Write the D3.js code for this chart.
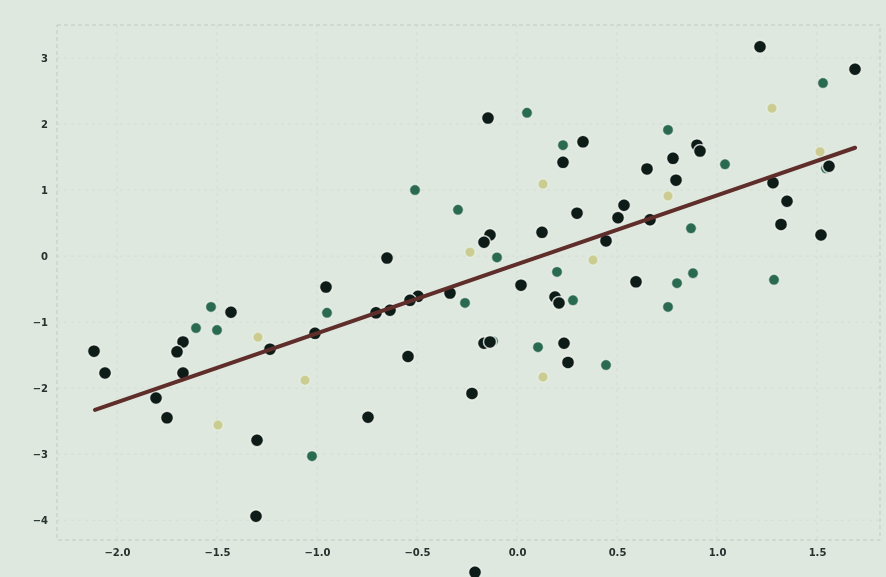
<!DOCTYPE html>
<html lang="en">
  <head>
    <meta charset="UTF-8" />
    <title>scatter</title>
    <style>
      body {
        margin: 0;
        background: #dfe8de;
      }
      text {
        font-family: "DejaVu Sans", sans-serif;
      }
    </style>
  </head>

  <body>
    <div class="container"></div>

    <script src="https://d3js.org/d3.v7.min.js"></script>
    <script>
      // 三組點 [x, y]
      const darkPts = [
        [1.215, 3.17], [1.69, 2.83], [-0.145, 2.09], [0.33, 1.73], [0.23, 1.42],
        [0.9, 1.68], [0.915, 1.59], [0.78, 1.48], [0.795, 1.15], [1.28, 1.11],
        [1.35, 0.83], [0.535, 0.77], [0.505, 0.58], [0.3, 0.65], [1.32, 0.48],
        [1.52, 0.32], [0.125, 0.36], [-0.135, 0.32], [-0.165, 0.21], [0.445, 0.23],
        [0.665, 0.55], [0.65, 1.32], [1.56, 1.36], [-0.65, -0.03], [-0.955, -0.47],
        [0.02, -0.44], [0.595, -0.39], [0.19, -0.62], [0.21, -0.71], [-1.43, -0.85],
        [-0.495, -0.61], [-0.535, -0.67], [-0.335, -0.56], [-0.635, -0.82], [-0.705, -0.86],
        [-1.01, -1.17], [-1.67, -1.3], [-1.7, -1.45], [-2.115, -1.44], [-2.06, -1.77],
        [-1.67, -1.77], [-1.235, -1.41], [-0.545, -1.52], [-0.165, -1.32], [-0.135, -1.3],
        [0.235, -1.32], [0.255, -1.61], [-0.225, -2.08], [-1.805, -2.15], [-1.75, -2.45],
        [-0.745, -2.44], [-1.3, -2.79], [-1.305, -3.94], [-0.21, -4.79]
      ];
      const greenPts = [
        [0.05, 2.17], [0.755, 1.91], [1.53, 2.62], [1.04, 1.39], [-0.295, 0.7],
        [0.87, 0.42], [-0.1, -0.02], [0.2, -0.24], [0.28, -0.67], [0.8, -0.41],
        [0.755, -0.77], [0.88, -0.26], [1.285, -0.36], [-1.53, -0.77], [-1.605, -1.09],
        [-1.5, -1.12], [-0.95, -0.86], [-0.12, -1.29], [0.105, -1.38], [0.445, -1.65],
        [-1.025, -3.03], [1.545, 1.33], [-0.51, 1.0], [0.23, 1.68], [-0.26, -0.71]
      ];
      const yellowPts = [
        [1.275, 2.24], [0.13, 1.09], [-0.235, 0.06], [0.38, -0.06], [-1.295, -1.23],
        [-1.06, -1.88], [0.13, -1.83], [-1.495, -2.56], [1.515, 1.58], [0.755, 0.91]
      ];

      // 回歸線 y = a + b x
      const fitA = -0.125,
        fitB = 1.045,
        fitRange = [-2.11, 1.69];

      const xTicks = [-2, -1.5, -1, -0.5, 0, 0.5, 1, 1.5];
      const yTicks = [3, 2, 1, 0, -1, -2, -3, -4];

      const W = 886,
        H = 577;
      const svg = d3
        .select(".container")
        .append("svg")
        .attr("width", W)
        .attr("height", H);

      const scX = d3.scaleLinear().domain([-2.3, 1.815]).range([57, 880]);
      const scY = d3.scaleLinear().domain([-4.3, 3.5]).range([540, 25]);

      const soft = svg
        .append("defs")
        .append("filter")
        .attr("id", "soft")
        .attr("x", "-20%")
        .attr("y", "-20%")
        .attr("width", "140%")
        .attr("height", "140%");
      soft.append("feGaussianBlur").attr("stdDeviation", 0.7);

      // 格線 (很淡)
      svg
        .append("g")
        .selectAll("line")
        .data(xTicks)
        .join("line")
        .attr("x1", (d) => scX(d))
        .attr("x2", (d) => scX(d))
        .attr("y1", scY.range()[1])
        .attr("y2", scY.range()[0])
        .attr("stroke", "#d3ddd2")
        .attr("stroke-dasharray", "3,4");
      svg
        .append("g")
        .selectAll("line")
        .data(yTicks)
        .join("line")
        .attr("x1", scX.range()[0])
        .attr("x2", scX.range()[1])
        .attr("y1", (d) => scY(d))
        .attr("y2", (d) => scY(d))
        .attr("stroke", "#d3ddd2")
        .attr("stroke-dasharray", "3,4");

      // 框
      svg
        .append("rect")
        .attr("x", scX.range()[0])
        .attr("y", scY.range()[1])
        .attr("width", scX.range()[1] - scX.range()[0])
        .attr("height", scY.range()[0] - scY.range()[1])
        .attr("fill", "none")
        .attr("stroke", "#bfcabf")
        .attr("stroke-dasharray", "4,3");

      // 軸
      const xAxis = svg
        .append("g")
        .attr("transform", `translate(0,${scY.range()[0]})`)
        .call(
          d3.axisBottom(scX).tickValues(xTicks).tickFormat(d3.format(".1f")).tickSize(0).tickPadding(9)
        );
      const yAxis = svg
        .append("g")
        .attr("transform", `translate(${scX.range()[0]},0)`)
        .call(d3.axisLeft(scY).tickValues(yTicks).tickFormat(d3.format("d")).tickSize(0).tickPadding(9));
      [xAxis, yAxis].forEach((g) => {
        g.select(".domain").remove();
        g.selectAll("text")
          .attr("font-size", 10)
          .attr("font-weight", "bold")
          .attr("fill", "#26302e")
          .attr("filter", "url(#soft)");
      });

      // 點
      const dots = svg.append("g").attr("filter", "url(#soft)");
      const groups = [
        { pts: yellowPts, r: 5, fill: "#cbcc92", halo: 0.4 },
        { pts: greenPts, r: 5.5, fill: "#2a6a51", halo: 0.6 },
        { pts: darkPts, r: 6.5, fill: "#0d1b19", halo: 0.8 }
      ];
      groups.forEach((grp) => {
        dots
          .append("g")
          .selectAll("circle")
          .data(grp.pts)
          .join("circle")
          .attr("cx", (d) => scX(d[0]))
          .attr("cy", (d) => scY(d[1]))
          .attr("r", grp.r)
          .attr("fill", grp.fill)
          .attr("stroke", "#f6f9f4")
          .attr("stroke-opacity", grp.halo)
          .attr("stroke-width", 1.5);
      });

      // 回歸線
      svg
        .append("line")
        .attr("x1", scX(fitRange[0]))
        .attr("y1", scY(fitA + fitB * fitRange[0]))
        .attr("x2", scX(fitRange[1]))
        .attr("y2", scY(fitA + fitB * fitRange[1]))
        .attr("stroke", "#5e2e2c")
        .attr("stroke-width", 4)
        .attr("stroke-linecap", "round")
        .attr("filter", "url(#soft)");
    </script>
  </body>
</html>
